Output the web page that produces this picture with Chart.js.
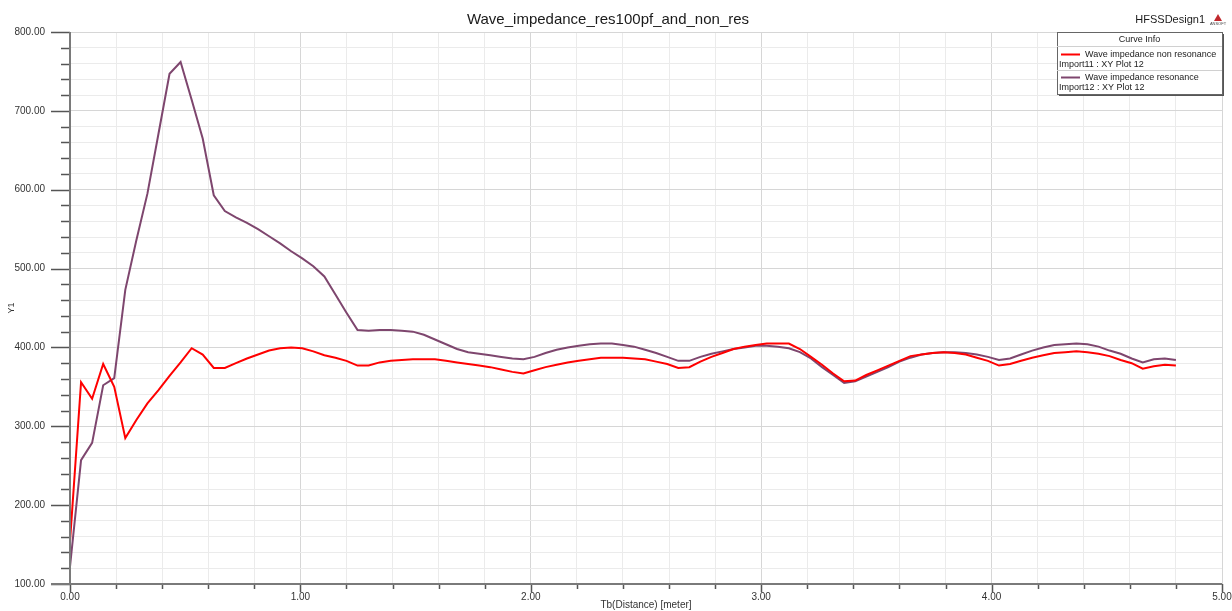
<!DOCTYPE html>
<html>
<head>
<meta charset="utf-8">
<script src="https://cdn.jsdelivr.net/npm/chart.js@4.4.1/dist/chart.umd.min.js"></script>
<style>
  html, body { margin: 0; padding: 0; background: #fff; }
  canvas { display: block; }
</style>
</head>
<body>
<canvas id="chart" width="1232" height="611"></canvas>
<script>
Chart.defaults.font.family = "'Liberation Sans', Arial, sans-serif";
Chart.defaults.color = "#333";

// distance along the line, meter
var distance = [0, 0.048, 0.096, 0.144, 0.192, 0.24, 0.288, 0.336, 0.384, 0.432,
  0.48, 0.528, 0.576, 0.624, 0.672, 0.72, 0.768, 0.816, 0.864, 0.912,
  0.96, 1.008, 1.056, 1.104, 1.152, 1.2, 1.248, 1.296, 1.344, 1.392,
  1.44, 1.488, 1.536, 1.584, 1.632, 1.68, 1.728, 1.776, 1.824, 1.872,
  1.92, 1.968, 2.016, 2.064, 2.112, 2.16, 2.208, 2.256, 2.304, 2.352,
  2.4, 2.448, 2.496, 2.544, 2.592, 2.64, 2.688, 2.736, 2.784, 2.832,
  2.88, 2.928, 2.976, 3.024, 3.072, 3.12, 3.168, 3.216, 3.264, 3.312,
  3.36, 3.408, 3.456, 3.504, 3.552, 3.6, 3.648, 3.696, 3.744, 3.792,
  3.84, 3.888, 3.936, 3.984, 4.032, 4.08, 4.128, 4.176, 4.224, 4.272,
  4.32, 4.368, 4.416, 4.464, 4.512, 4.56, 4.608, 4.656, 4.704, 4.752, 4.8];

var nonResonance = [154, 356, 335, 379, 350, 285, 308, 329, 346, 364,
  381, 399, 391, 374, 374, 380, 386, 391, 396, 399,
  400, 399, 395, 390, 387, 383, 377, 377, 381, 383,
  384, 385, 385, 385, 383, 381, 379, 377, 375, 372,
  369, 367, 371, 375, 378, 381, 383, 385, 387, 387,
  387, 386, 385, 382, 379, 374, 375, 382, 388, 393,
  398, 401, 403, 405, 405, 405, 398, 388, 378, 367,
  357, 358, 365, 371, 377, 383, 389, 391, 393, 394,
  393, 391, 387, 383, 377, 379, 383, 387, 390, 393,
  394, 395, 394, 392, 389, 384, 380, 373, 376, 378, 377];

var resonance = [122, 257, 279, 352, 361, 473, 536, 595, 671, 747,
  762, 714, 665, 593, 573, 565, 558, 550, 541, 532,
  522, 513, 503, 490, 467, 444, 422, 421, 422, 422,
  421, 420, 416, 410, 404, 398, 394, 392, 390, 388,
  386, 385, 388, 393, 397, 400, 402, 404, 405, 405,
  403, 401, 397, 393, 388, 383, 383, 388, 392, 395,
  398, 400, 402, 402, 401, 399, 394, 386, 375, 365,
  355, 357, 363, 369, 375, 382, 387, 391, 393, 394,
  394, 393, 391, 388, 384, 386, 391, 396, 400, 403,
  404, 405, 404, 401, 396, 392, 386, 381, 385, 386, 384];

var curveNames = ["Wave impedance non resonance", "Wave impedance resonance"];
var curveSources = ["Import11 : XY Plot 12", "Import12 : XY Plot 12"];
var curveColors = ["#ff0000", "#7e466e"];

function points(ys) {
  return distance.map(function (d, i) { return { x: d, y: ys[i] }; });
}

// axis ticks, title, design name and the Curve Info box
var hfssDecor = {
  id: "hfssDecor",
  afterDraw: function (chart) {
    var ctx = chart.ctx;
    var a = chart.chartArea;
    var xs = chart.scales.x, ys = chart.scales.y;
    ctx.save();

    // tick marks
    ctx.strokeStyle = "#555";
    ctx.lineWidth = 1.5;
    ctx.beginPath();
    for (var v = 100; v <= 800; v += 20) {
      var py = Math.round(ys.getPixelForValue(v)) + 0.5;
      var len = v % 100 === 0 ? 19 : 9;
      ctx.moveTo(a.left - len, py);
      ctx.lineTo(a.left, py);
    }
    for (var k = 0; k <= 25; k++) {
      var px = Math.round(xs.getPixelForValue(k * 0.2)) + 0.5;
      var l2 = k % 5 === 0 ? 8 : 5;
      ctx.moveTo(px, a.bottom);
      ctx.lineTo(px, a.bottom + l2);
    }
    ctx.stroke();

    // axis lines
    ctx.strokeStyle = "#7a7a7a";
    ctx.lineWidth = 2;
    ctx.beginPath();
    ctx.moveTo(a.left, a.top);
    ctx.lineTo(a.left, a.bottom);
    ctx.moveTo(a.left - 19, a.bottom);
    ctx.lineTo(a.right, a.bottom);
    ctx.stroke();

    // title
    ctx.fillStyle = "#1a1a1a";
    ctx.font = "15px 'Liberation Sans', Arial, sans-serif";
    ctx.textAlign = "center";
    ctx.textBaseline = "middle";
    ctx.fillText("Wave_impedance_res100pf_and_non_res", 608, 20);

    ctx.font = "11px 'Liberation Sans', Arial, sans-serif";
    ctx.textAlign = "right";
    ctx.fillText("HFSSDesign1", 1205, 20);

    // small logo
    ctx.fillStyle = "#c0282d";
    ctx.beginPath();
    ctx.moveTo(1218, 14);
    ctx.lineTo(1222, 21);
    ctx.lineTo(1214, 21);
    ctx.closePath();
    ctx.fill();
    ctx.fillStyle = "#444";
    ctx.font = "4px 'Liberation Sans', Arial, sans-serif";
    ctx.textAlign = "center";
    ctx.fillText("ANSOFT", 1218, 24);

    // Curve Info box
    var bx = 1057, by = 32, bw = 165, bh = 62;
    ctx.fillStyle = "#555";
    ctx.fillRect(bx + 2, by + 2, bw, bh);
    ctx.fillStyle = "#fff";
    ctx.fillRect(bx, by, bw, bh);
    ctx.strokeStyle = "#666";
    ctx.lineWidth = 1;
    ctx.strokeRect(bx + 0.5, by + 0.5, bw, bh);
    ctx.strokeStyle = "#d0d0d0";
    ctx.beginPath();
    ctx.moveTo(bx, 46.5); ctx.lineTo(bx + bw, 46.5);
    ctx.moveTo(bx, 70.5); ctx.lineTo(bx + bw, 70.5);
    ctx.stroke();

    ctx.fillStyle = "#222";
    ctx.font = "9px 'Liberation Sans', Arial, sans-serif";
    ctx.textAlign = "center";
    ctx.fillText("Curve Info", bx + bw / 2, 40);
    ctx.textAlign = "left";
    var rows = [54.5, 77.5];
    for (var i = 0; i < 2; i++) {
      ctx.strokeStyle = curveColors[i];
      ctx.lineWidth = 2;
      ctx.beginPath();
      ctx.moveTo(1061, rows[i]);
      ctx.lineTo(1080, rows[i]);
      ctx.stroke();
      ctx.fillStyle = "#222";
      ctx.fillText(curveNames[i], 1085, rows[i]);
      ctx.fillText(curveSources[i], 1059, rows[i] + 10);
    }
    ctx.restore();
  }
};

var chart = new Chart("chart", {
  type: "line",
  data: {
    datasets: [
      {
        label: curveNames[0],
        data: points(nonResonance),
        borderColor: curveColors[0],
        borderWidth: 2,
        pointRadius: 0,
        tension: 0,
      },
      {
        label: curveNames[1],
        data: points(resonance),
        borderColor: curveColors[1],
        borderWidth: 2,
        pointRadius: 0,
        tension: 0,
      },
    ],
  },
  options: {
    responsive: false,
    animation: false,
    layout: { padding: { top: 32, right: 10, left: 0, bottom: 0 } },
    plugins: {
      legend: { display: false },
      title: { display: false },
      tooltip: { enabled: false },
    },
    scales: {
      x: {
        type: "linear",
        min: 0,
        max: 5,
        border: { display: false },
        afterFit: function (s) {
          s.height = 27;
          s.paddingLeft = 0;
          s.paddingRight = 0;
        },
        grid: {
          drawTicks: false,
          color: function (c) {
            return Math.abs(c.tick.value - Math.round(c.tick.value)) < 1e-6 ? "#d6d6d6" : "#ebebeb";
          },
        },
        ticks: {
          stepSize: 0.2,
          padding: 7,
          maxRotation: 0,
          autoSkip: false,
          font: { size: 10 },
          color: "#333",
          callback: function (v) {
            return Math.abs(v - Math.round(v)) < 1e-6 ? v.toFixed(2) : "";
          },
        },
        title: {
          display: true,
          text: "Tb(Distance) [meter]",
          font: { size: 10 },
          color: "#333",
          padding: { top: 0, bottom: 0 },
        },
      },
      y: {
        min: 100,
        max: 800,
        border: { display: false },
        afterFit: function (s) {
          s.width = 70;
          s.paddingTop = 0;
          s.paddingBottom = 0;
        },
        grid: {
          drawTicks: false,
          color: function (c) {
            return c.tick.value % 100 === 0 ? "#d6d6d6" : "#ebebeb";
          },
        },
        ticks: {
          stepSize: 20,
          padding: 25,
          autoSkip: false,
          font: { size: 10 },
          color: "#333",
          callback: function (v) {
            return v % 100 === 0 ? v.toFixed(2) : "";
          },
        },
        title: {
          display: true,
          text: "Y1",
          font: { size: 9 },
          color: "#333",
          padding: { top: 6, bottom: 0 },
        },
      },
    },
  },
  plugins: [hfssDecor],
});
</script>
</body>
</html>
